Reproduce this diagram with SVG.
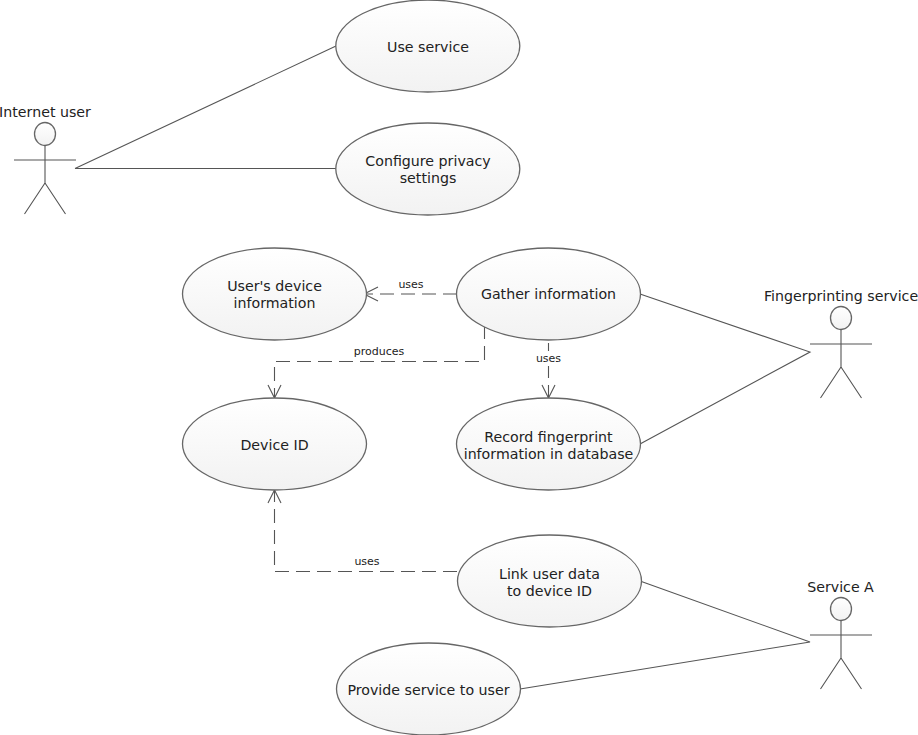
<svg xmlns="http://www.w3.org/2000/svg" width="918" height="735" viewBox="0 0 918 735">
<style>
text{font-family:"DejaVu Sans",Verdana,sans-serif;font-size:14.2px;fill:#222;text-anchor:middle}
text.s{font-size:11px}
.u{fill:url(#g);stroke:#666;stroke-width:1.3}
.l{fill:none;stroke:#555;stroke-width:1.1}
.d{fill:none;stroke:#555;stroke-width:1.1;stroke-dasharray:14 7}
.o{fill:none;stroke:#555;stroke-width:1.1}
</style>
<defs>
<linearGradient id="g" x1="0" y1="0" x2="0" y2="1"><stop offset="0" stop-color="#fff"/><stop offset="1" stop-color="#f2f2f2"/></linearGradient>
<g id="actor"><ellipse class="u" cx="0" cy="0" rx="10.5" ry="11.5"/><path class="l" d="M0 11.500V49M-31 26H31M0 49L-20.500 80M0 49L20.500 80"/></g>
</defs>
<g id="connectors">
<path class="l" d="M75 168.500L336 46M75 168.500H336M640 294L810 352L640 444M640 581L810 642L520 689"/>
<path class="d" d="M457 294H364"/><path class="o" d="M378 287L364 294L378 301"/>
<path class="d" d="M548.500 343V398"/><path class="o" d="M542 385L548.500 398L555 385"/>
<path class="d" d="M484.500 325V361.500H274.500V398"/><path class="o" d="M268 385L274.500 398L281 385"/>
<path class="d" d="M457 571.500H274.500V490"/><path class="o" d="M268 503L274.500 490L281 503"/>
<rect x="530" y="351" width="37" height="15" fill="#fff"/>
<text class="s" x="411" y="288">uses</text>
<text class="s" x="379" y="355">produces</text>
<text class="s" x="548.500" y="362">uses</text>
<text class="s" x="367" y="565">uses</text>
</g>
<g id="internet-user"><use href="#actor" x="45" y="134"/><text x="45" y="117">Internet user</text></g>
<g id="fingerprinting-service"><use href="#actor" x="841" y="318"/><text x="841" y="301">Fingerprinting service</text></g>
<g id="service-a"><use href="#actor" x="841" y="609"/><text x="840.500" y="592">Service A</text></g>
<g id="use-service"><ellipse class="u" cx="427.800" cy="46" rx="92" ry="46"/><text x="428" y="52">Use service</text></g>
<g id="configure-privacy"><ellipse class="u" cx="427.800" cy="169" rx="92" ry="46"/><text x="428" y="166">Configure privacy</text><text x="428" y="183">settings</text></g>
<g id="users-device-info"><ellipse class="u" cx="274.500" cy="294" rx="92" ry="46"/><text x="274.500" y="291">User's device</text><text x="274.500" y="308">information</text></g>
<g id="gather-information"><ellipse class="u" cx="548.500" cy="294" rx="92" ry="46"/><text x="548.500" y="299">Gather information</text></g>
<g id="record-fingerprint"><ellipse class="u" cx="548.500" cy="444" rx="92" ry="46"/><text x="548.500" y="442">Record fingerprint</text><text x="548.500" y="459">information in database</text></g>
<g id="device-id"><ellipse class="u" cx="274.500" cy="444" rx="92" ry="46"/><text x="274.500" y="450">Device ID</text></g>
<g id="link-user-data"><ellipse class="u" cx="549.500" cy="581" rx="92" ry="46"/><text x="549.500" y="579">Link user data</text><text x="549.500" y="596">to device ID</text></g>
<g id="provide-service"><ellipse class="u" cx="428.500" cy="689" rx="92" ry="46"/><text x="428.500" y="695">Provide service to user</text></g>
</svg>
